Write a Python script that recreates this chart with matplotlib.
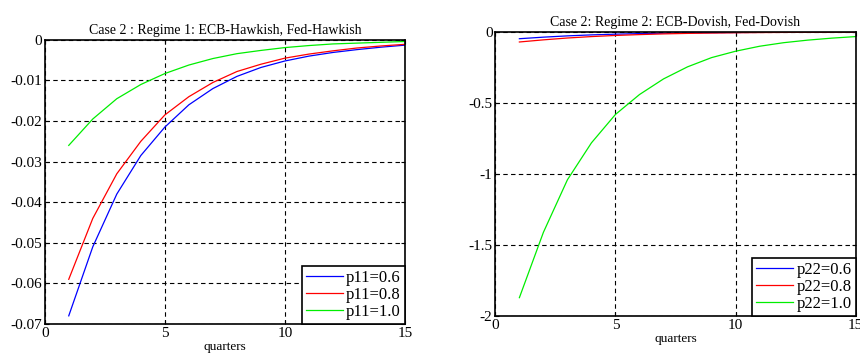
import numpy as np
import matplotlib
matplotlib.use('Agg')
import matplotlib.pyplot as plt

plt.rcParams['font.family'] = ['Liberation Serif', 'DejaVu Serif']
plt.rcParams['xtick.direction'] = 'in'
plt.rcParams['ytick.direction'] = 'in'

quarters = np.arange(1, 16)

# regime 1
r1_p06 = [-0.068, -0.051, -0.038, -0.0285, -0.0215, -0.016, -0.012, -0.009,
          -0.0068, -0.0052, -0.004, -0.0031, -0.0024, -0.0018, -0.0013]
r1_p08 = [-0.059, -0.044, -0.033, -0.025, -0.0185, -0.014, -0.0105, -0.0078,
          -0.006, -0.0045, -0.0035, -0.0027, -0.002, -0.0015, -0.0011]
r1_p10 = [-0.026, -0.0195, -0.0145, -0.011, -0.0083, -0.0062, -0.0046, -0.0034,
          -0.0026, -0.0019, -0.0014, -0.001, -0.0008, -0.0006, -0.0004]

# regime 2
r2_p06 = [-0.047, -0.036, -0.027, -0.02, -0.015, -0.011, -0.008, -0.006,
          -0.0045, -0.0033, -0.0025, -0.0018, -0.0013, -0.001, -0.0007]
r2_p08 = [-0.07, -0.055, -0.042, -0.032, -0.024, -0.018, -0.013, -0.0095,
          -0.007, -0.005, -0.0037, -0.0027, -0.002, -0.0015, -0.001]
r2_p10 = [-1.87, -1.41, -1.04, -0.78, -0.58, -0.44, -0.33, -0.245,
          -0.18, -0.135, -0.1, -0.075, -0.057, -0.043, -0.032]

cols = ['#0000ff', '#ff0000', '#00ee00']

fig = plt.figure(figsize=(8.6, 3.56), dpi=100)
ax1 = fig.add_axes([0.052, 0.09, 0.419, 0.798])
ax2 = fig.add_axes([0.576, 0.112, 0.419, 0.798])

def style(ax, title, ylim, yticks, ylabels):
    ax.set_xlim(0, 15)
    ax.set_ylim(*ylim)
    ax.set_xticks([0, 5, 10, 15])
    ax.set_yticks(yticks)
    ax.set_yticklabels(ylabels)
    ax.tick_params(labelsize=11, top=True, right=True, length=3, pad=2)
    ax.grid(True, color='black', linestyle=(0, (4, 3)), linewidth=0.8)
    for s in ax.spines.values():
        s.set_linewidth(1.2)
    ax.set_title(title, fontsize=10, pad=4)
    ax.set_xlabel('quarters', fontsize=9.5, labelpad=1)

for data, c, lab in zip([r1_p06, r1_p08, r1_p10], cols, ['p11=0.6', 'p11=0.8', 'p11=1.0']):
    ax1.plot(quarters, data, color=c, linewidth=0.9, label=lab)
style(ax1, 'Case 2 : Regime 1: ECB-Hawkish, Fed-Hawkish', (-0.07, 0),
      [-0.07, -0.06, -0.05, -0.04, -0.03, -0.02, -0.01, 0],
      ['-0.07', '-0.06', '-0.05', '-0.04', '-0.03', '-0.02', '-0.01', '0'])

for data, c, lab in zip([r2_p06, r2_p08, r2_p10], cols, ['p22=0.6', 'p22=0.8', 'p22=1.0']):
    ax2.plot(quarters, data, color=c, linewidth=0.9, label=lab)
style(ax2, 'Case 2: Regime 2: ECB-Dovish, Fed-Dovish', (-2, 0),
      [-2, -1.5, -1, -0.5, 0], ['-2', '-1.5', '-1', '-0.5', '0'])

for ax in (ax1, ax2):
    leg = ax.legend(loc='lower right', fontsize=12, fancybox=False, framealpha=1,
                    edgecolor='black', borderaxespad=0, handlelength=2.2,
                    handletextpad=0.2, labelspacing=0.05, borderpad=0.25)
    leg.get_frame().set_linewidth(1.2)

fig.savefig('out.png', dpi=100)
